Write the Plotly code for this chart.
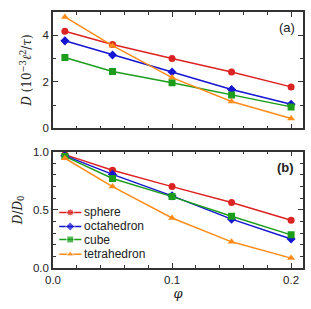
import plotly.graph_objects as go

phi = [0.01, 0.05, 0.10, 0.15, 0.20]
series_names = ["sphere", "octahedron", "cube", "tetrahedron"]
D_sphere = [4.17, 3.60, 3.00, 2.42, 1.78]
D_octa = [3.76, 3.15, 2.42, 1.67, 1.03]
D_cube = [3.04, 2.44, 1.96, 1.43, 0.92]
D_tetra = [4.79, 3.55, 2.18, 1.15, 0.42]
R_sphere = [0.975, 0.84, 0.70, 0.563, 0.41]
R_octa = [0.966, 0.805, 0.62, 0.42, 0.25]
R_cube = [0.96, 0.77, 0.614, 0.445, 0.285]
R_tetra = [0.944, 0.70, 0.43, 0.225, 0.085]

colors = ["#dd2222", "#1414d2", "#1c9e1c", "#ff8c1a"]
symbols = ["circle", "diamond", "square", "triangle-up"]
top_vals = [D_sphere, D_octa, D_cube, D_tetra]
bot_vals = [R_sphere, R_octa, R_cube, R_tetra]

# legend layout (fractions of the lower panel)
leg_rows = [0.478, 0.357, 0.245, 0.118]
leg_x = [0.025, 0.069, 0.1135]
leg_text_x = 0.117

fig = go.Figure()

for i, name in enumerate(series_names):
    fig.add_trace(go.Scatter(x=phi, y=top_vals[i], mode="lines+markers", name=name,
                             xaxis="x", yaxis="y",
                             line=dict(color=colors[i], width=1.5),
                             marker=dict(symbol=symbols[i], size=7, color=colors[i]),
                             showlegend=False))
for i, name in enumerate(series_names):
    fig.add_trace(go.Scatter(x=phi, y=bot_vals[i], mode="lines+markers", name=name,
                             xaxis="x2", yaxis="y2",
                             line=dict(color=colors[i], width=1.5),
                             marker=dict(symbol=symbols[i], size=7, color=colors[i]),
                             showlegend=False))
# legend samples
for i, name in enumerate(series_names):
    fig.add_trace(go.Scatter(x=leg_x, y=[leg_rows[i]] * 3, mode="lines+markers", name=name,
                             xaxis="x3", yaxis="y3", hoverinfo="skip",
                             line=dict(color=colors[i], width=1.5),
                             marker=dict(symbol=symbols[i], size=[0, 7, 0], color=colors[i]),
                             showlegend=False))
    fig.add_annotation(text=name, xref="x3", yref="y3", x=leg_text_x, y=leg_rows[i],
                       xanchor="left", yanchor="middle", showarrow=False,
                       font=dict(family="Liberation Sans, Arial", size=12, color="#222222"))

tick_font = dict(family="Liberation Sans, Arial", size=11.5, color="#222222")
def ax(**kw):
    d = dict(showline=True, linecolor="#333333", linewidth=1.5, mirror="ticks",
             ticks="inside", ticklen=5, tickcolor="#333333", tickwidth=1,
             showgrid=False, zeroline=False, tickfont=tick_font, tickmode="linear")
    d.update(kw)
    return d

def minor(dt):
    return dict(dtick=dt, ticks="inside", ticklen=3, tickcolor="#333333", showgrid=False)

H = 309 - 6 - 41
bot_dom = [0, 119 / H]
fig.update_layout(
    xaxis=ax(domain=[0, 1], anchor="y", range=[0, 0.21], tick0=0, dtick=0.1,
             showticklabels=False, minor=minor(0.02)),
    yaxis=ax(domain=[143 / H, 1], anchor="x", range=[0, 5], tick0=0, dtick=2,
             minor=minor(1),
             title=dict(text="<i>D</i> (10<sup>−3</sup><i>ℓ</i><sup>2</sup>/<i>τ</i>)",
                        font=dict(family="DejaVu Serif", size=12, color="#222222"), standoff=8)),
    xaxis2=ax(domain=[0, 1], anchor="y2", range=[0, 0.21], tick0=0, dtick=0.1,
              tickformat=".1f", minor=minor(0.02),
              title=dict(text="<i>φ</i>", font=dict(family="DejaVu Serif", size=13, color="#222222"),
                         standoff=4)),
    yaxis2=ax(domain=bot_dom, anchor="x2", range=[0, 1.0], tick0=0, dtick=0.5,
              tickformat=".1f", minor=minor(0.1),
              title=dict(text="<i>D</i>/<i>D</i><sub>0</sub>",
                         font=dict(family="DejaVu Serif", size=12, color="#222222"), standoff=8)),
    xaxis3=dict(domain=[0, 1], anchor="y3", overlaying="x2", range=[0, 1], visible=False,
                fixedrange=True),
    yaxis3=dict(domain=bot_dom, anchor="x3", overlaying="y2", range=[0, 1], visible=False,
                fixedrange=True),
)

fig.add_annotation(text="(a)", xref="x domain", yref="y domain", x=0.975, y=0.95,
                   xanchor="right", yanchor="top", showarrow=False,
                   font=dict(family="Liberation Sans, Arial", size=13, color="#222222"))
fig.add_annotation(text="<b>(b)</b>", xref="x2 domain", yref="y2 domain", x=0.97, y=0.95,
                   xanchor="right", yanchor="top", showarrow=False,
                   font=dict(family="Liberation Sans, Arial", size=13, color="#222222"))

fig.update_layout(width=311, height=309, autosize=False,
                  margin=dict(l=53, r=6, t=6, b=41, pad=0),
                  plot_bgcolor="white", paper_bgcolor="white", showlegend=False)

fig.write_html("out.html", config={"displayModeBar": False},
               post_script="document.body.style.margin='0';")
